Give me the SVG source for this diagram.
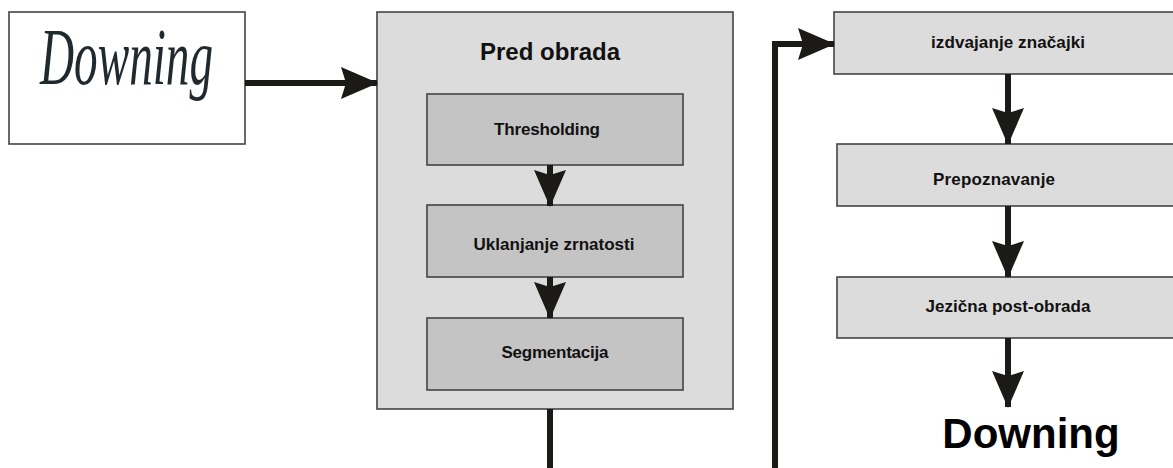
<svg xmlns="http://www.w3.org/2000/svg" width="1173" height="468" viewBox="0 0 1173 468">
  <style>
    .outer { fill: #dcdcdc; stroke: #444; stroke-width: 1.6; }
    .inner { fill: #c4c4c4; stroke: #444; stroke-width: 1.6; }
    .step { fill: #dcdcdc; stroke: #444; stroke-width: 1.6; }
    .lbl { font-family: "Liberation Sans", Arial, sans-serif; font-weight: bold; font-size: 17px; fill: #111; text-anchor: middle; }
    .conn { fill: none; stroke: #1c1a17; stroke-width: 6; marker-end: url(#ah); }
  </style>
  <defs>
    <marker id="ah" markerUnits="userSpaceOnUse" markerWidth="37" markerHeight="32" viewBox="0 0 37 32" refX="36" refY="16" orient="auto">
      <path d="M0,0 L37,16 L0,32 L5,16 Z" fill="#1c1a17"/>
    </marker>
  </defs>
  <rect width="1173" height="468" fill="#fff"/>

  <g id="input">
    <rect x="9" y="12" width="236" height="132" fill="#fff" stroke="#444" stroke-width="1.6"/>
    <text x="40" y="84" font-family="Liberation Serif, serif" font-style="italic" font-size="80" fill="#1f292e" textLength="173" lengthAdjust="spacingAndGlyphs">Downing</text>
  </g>

  <g id="pred-obrada">
    <rect class="outer" x="377" y="12" width="356" height="397"/>
    <text x="550" y="60" font-family="Liberation Sans, Arial, sans-serif" font-weight="bold" font-size="24" fill="#111" text-anchor="middle">Pred obrada</text>
  </g>

  <g id="thresholding">
    <rect class="inner" x="427" y="94" width="256" height="71"/>
    <text class="lbl" x="547" y="135" textLength="106">Thresholding</text>
  </g>

  <g id="uklanjanje">
    <rect class="inner" x="427" y="205" width="256" height="72"/>
    <text class="lbl" x="554" y="250" textLength="161">Uklanjanje zrnatosti</text>
  </g>

  <g id="segmentacija">
    <rect class="inner" x="427" y="318" width="256" height="72"/>
    <text class="lbl" x="555" y="358" textLength="107">Segmentacija</text>
  </g>

  <g id="izdvajanje">
    <rect class="step" x="834" y="12" width="345" height="62"/>
    <text class="lbl" x="1008" y="48" textLength="154">izdvajanje značajki</text>
  </g>

  <g id="prepoznavanje">
    <rect class="step" x="837" y="144" width="342" height="62"/>
    <text class="lbl" x="994" y="185" textLength="122">Prepoznavanje</text>
  </g>

  <g id="jezicna">
    <rect class="step" x="837" y="277" width="342" height="61"/>
    <text class="lbl" x="1008" y="312" textLength="165">Jezična post-obrada</text>
  </g>

  <g id="output">
    <text x="1031" y="448" font-family="Liberation Sans, Arial, sans-serif" font-weight="bold" font-size="42" fill="#000" text-anchor="middle">Downing</text>
  </g>

  <g id="connectors">
    <path class="conn" d="M245,83 H377"/>
    <path class="conn" d="M550,165 V206"/>
    <path class="conn" d="M550,277 V318"/>
    <path class="conn" d="M550,409 V480 H775 V44 H834"/>
    <path class="conn" d="M1008,74 V144"/>
    <path class="conn" d="M1008,206 V277"/>
    <path class="conn" d="M1008,338 V407"/>
  </g>
</svg>
